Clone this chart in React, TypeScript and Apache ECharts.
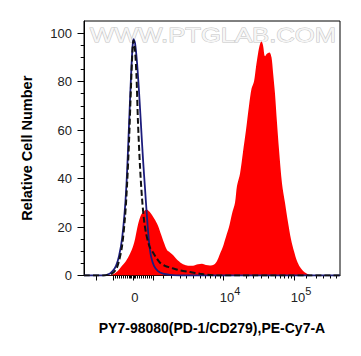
import React, { useEffect, useRef } from "react";
import * as echarts from "echarts";

// Display channels run 0..256 across the plot (biexponential display scale).
// Each histogram is a list of [channel, relative count] pairs.
const sampleHist: [number, number][] = [
  [24, 0], [29, 0.5], [34, 2], [38, 4], [42, 6], [46, 9], [49, 12], [51, 15],
  [54, 21], [57, 25], [60, 26.5], [62.5, 27.2], [65, 26.5], [68, 25], [71, 23],
  [74, 20.5], [77, 17], [80, 13.5], [83, 10.5], [86, 9.5], [89, 8.5], [92, 7],
  [96, 5.5], [100, 4.5], [104, 4], [109, 4], [114, 4.6], [118, 4.8], [122, 4.3],
  [126, 4.1], [130, 4.5], [133, 6], [136, 9], [139, 12], [142, 16], [145, 20],
  [148, 25.5], [151, 30], [153, 37], [156, 42], [159, 51], [162, 60], [165, 70],
  [167.5, 77], [170, 80], [172, 86], [174, 91.5], [176, 95.5], [177.5, 96.5],
  [179, 95], [181, 90.5], [183, 91.5], [185.5, 92], [187.5, 90], [189, 84],
  [191, 75], [193, 63], [195, 52], [198, 38], [201, 30], [204, 22], [207, 15],
  [210, 10], [213, 6], [216, 3.5], [220, 1.5], [224, 0.5], [228, 0],
];

const isotypeHist: [number, number][] = [
  [0, 0], [16, 0], [22, 0.2], [26, 0.8], [29, 2], [32, 4], [35, 8], [38, 15],
  [41, 28], [43, 42], [45, 62], [47, 82], [48.5, 94], [49.5, 97.5], [51, 96],
  [53, 88], [55, 76], [57, 62], [59, 48], [61, 36], [63, 24], [65, 14], [67, 8],
  [70, 4], [74, 1.8], [79, 0.8], [86, 0.3], [96, 0], [256, 0],
];

const blankHist: [number, number][] = [
  [0, 0], [20, 0], [24, 0.3], [28, 0.8], [32, 2.5], [35, 6], [38, 12], [41, 24],
  [43, 37], [45, 55], [47, 78], [48.5, 93], [49.5, 97], [51, 93], [52.5, 82],
  [54, 63], [56, 45], [58, 32], [60, 23], [62, 17.5], [64, 14], [66, 11.5],
  [69, 9.5], [72, 7.5], [76, 5.3], [81, 4], [86, 3.3], [91, 2.7], [96, 2.1],
  [106, 1.4], [116, 0.7], [126, 0.2], [132, 0], [256, 0],
];

// Axis ticks and labels
const xMajorTicks = [12.7, 29, 49, 69, 139.5, 210.3];
const xMinorTicks = [
  31, 33, 35, 37, 39, 41, 43, 45, 46.5, 47.5, 50.5, 51.5, 53, 55, 57, 59, 61, 63,
  65, 67, 79.3, 87.7, 96, 102.7, 109.3, 116, 121, 126, 131, 136, 162.7, 169.3,
  177.7, 184.3, 191, 196, 200.3, 204.3, 207.7, 222.7, 232.7, 239.3, 246, 252.7,
];
const xLabelPos = [52.5, 146, 217];
const xLabelBase = ["0", "10", "10"];
const xLabelExp = ["", "4", "5"];

const yMajorTicks = [0, 20, 40, 60, 80, 100];
const yMinorTicks = [5, 10, 15, 25, 30, 35, 45, 50, 55, 65, 70, 75, 85, 90, 95];

const xTitle = "PY7-98080(PD-1/CD279),PE-Cy7-A";
const yTitle = "Relative Cell Number";
const watermark = "WWW.PTGLAB.COM";

const FONT = '"Liberation Sans", Arial, Helvetica, sans-serif';

export default function App() {
  const ref = useRef<HTMLDivElement>(null);

  useEffect(() => {
    if (!ref.current) return;
    const chart = echarts.init(ref.current, undefined, { renderer: "svg" });

    const xFormatter = (v: number) => {
      let best = 0;
      for (let i = 1; i < xLabelPos.length; i++) {
        if (Math.abs(xLabelPos[i] - v) < Math.abs(xLabelPos[best] - v)) best = i;
      }
      const exp = xLabelExp[best];
      return exp ? `{b|${xLabelBase[best]}}{s|${exp}}` : `{b|${xLabelBase[best]}}{s| }`;
    };

    chart.setOption({
      animation: false,
      backgroundColor: "#fff",
      grid: {
        left: 84,
        right: 21,
        top: 21,
        bottom: 80.5,
        show: true,
        borderColor: "#000",
        borderWidth: 1,
        backgroundColor: "transparent",
      },
      graphic: [
        {
          type: "text",
          x: 213,
          y: 35,
          scaleX: 1.22,
          z: 1,
          style: {
            text: watermark,
            font: `21px ${FONT}`,
            fill: "#f6f6f6",
            stroke: "#c4c4c4",
            lineWidth: 1,
            align: "center",
            verticalAlign: "middle",
          },
        },
      ],
      xAxis: [
        {
          type: "value",
          min: 0,
          max: 256,
          position: "bottom",
          axisLine: { show: true, onZero: false, lineStyle: { color: "#000", width: 1 } },
          splitLine: { show: false },
          axisTick: { show: true, length: 5, customValues: xMajorTicks, lineStyle: { color: "#000", width: 1 } },
          axisLabel: {
            customValues: xLabelPos,
            formatter: xFormatter,
            margin: 10,
            rich: {
              b: { fontSize: 13, color: "#222", fontFamily: FONT, verticalAlign: "bottom", lineHeight: 15 },
              s: { fontSize: 11, color: "#222", fontFamily: FONT, verticalAlign: "top", padding: [0, 0, 7, 0] },
            },
          },
          name: xTitle,
          nameLocation: "middle",
          nameGap: 45,
          nameTextStyle: { fontFamily: FONT, fontWeight: "bold", fontSize: 14, color: "#000" },
        },
        {
          type: "value",
          min: 0,
          max: 256,
          position: "bottom",
          axisLine: { show: false, onZero: false },
          splitLine: { show: false },
          axisTick: { show: true, length: 3, customValues: xMinorTicks, lineStyle: { color: "#000", width: 1 } },
          axisLabel: { show: false },
        },
      ],
      yAxis: [
        {
          type: "value",
          min: 0,
          max: 105,
          position: "left",
          axisLine: { show: true, onZero: false, lineStyle: { color: "#000", width: 1 } },
          splitLine: { show: false },
          axisTick: { show: true, length: 6.5, customValues: yMajorTicks, lineStyle: { color: "#000", width: 1 } },
          axisLabel: { customValues: yMajorTicks, fontSize: 13, color: "#222", fontFamily: FONT, margin: 12 },
          name: yTitle,
          nameLocation: "middle",
          nameRotate: 90,
          nameGap: 50,
          nameTextStyle: { fontFamily: FONT, fontWeight: "bold", fontSize: 14.5, color: "#000" },
        },
        {
          type: "value",
          min: 0,
          max: 105,
          position: "left",
          axisLine: { show: false, onZero: false },
          splitLine: { show: false },
          axisTick: { show: true, length: 3.3, customValues: yMinorTicks, lineStyle: { color: "#000", width: 1 } },
          axisLabel: { show: false },
        },
      ],
      series: [
        {
          type: "line",
          data: sampleHist,
          xAxisIndex: 0,
          yAxisIndex: 0,
          smooth: 0.3,
          symbol: "none",
          lineStyle: { width: 0 },
          areaStyle: { color: "#ff0000", opacity: 1 },
          z: 2,
        },
        {
          type: "line",
          data: isotypeHist,
          xAxisIndex: 0,
          yAxisIndex: 0,
          smooth: 0.3,
          symbol: "none",
          lineStyle: { color: "#1c1c7c", width: 1.8 },
          z: 3,
        },
        {
          type: "line",
          data: blankHist,
          xAxisIndex: 0,
          yAxisIndex: 0,
          smooth: 0.3,
          symbol: "none",
          lineStyle: { color: "#111", width: 2, type: [6, 3] },
          z: 4,
        },
      ],
    });

    return () => chart.dispose();
  }, []);

  return <div ref={ref} style={{ width: 361, height: 356, position: "absolute", left: 0, top: 0 }} />;
}
